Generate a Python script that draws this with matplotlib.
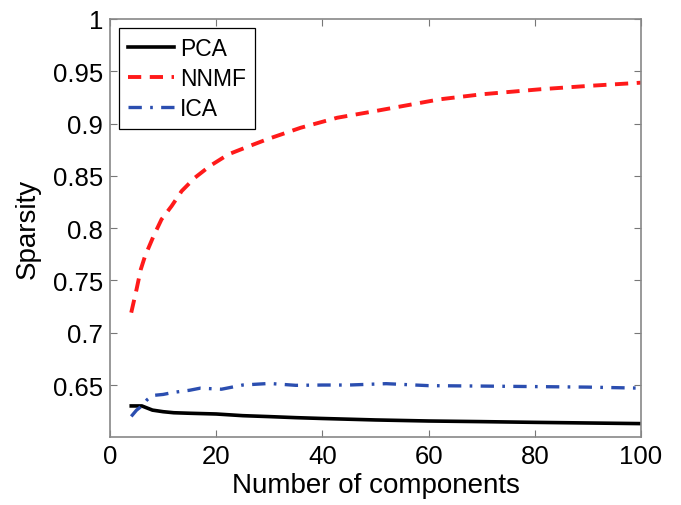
import matplotlib
matplotlib.use("Agg")
import matplotlib.pyplot as plt

plt.rcParams['font.family'] = ['Liberation Sans', 'DejaVu Sans']

# Sparsity of the learned components vs. number of components
pca_x = [4, 5, 6, 7, 8, 10, 12, 15, 20, 25, 30, 35, 40, 50, 60, 70, 80, 90, 100]
pca_y = [0.630, 0.630, 0.630, 0.628, 0.626, 0.6245, 0.6235, 0.623, 0.6223, 0.6207,
         0.6198, 0.6188, 0.618, 0.6166, 0.6156, 0.615, 0.6143, 0.6137, 0.6131]

nnmf_x = [4, 5, 5.8, 6.6, 8.2, 9.7, 11.6, 13.5, 16, 18.8, 22.3, 26, 29.6, 35.9,
          42.8, 50, 62.1, 70, 81, 90, 100]
nnmf_y = [0.7192, 0.7415, 0.7606, 0.7733, 0.7924, 0.8084, 0.8211, 0.8355, 0.8483,
          0.8594, 0.8706, 0.878, 0.885, 0.896, 0.9056, 0.912, 0.9232, 0.928, 0.9328,
          0.936, 0.9391]

ica_x = [4, 5, 6, 7, 8, 10, 12, 15, 17, 21, 25, 30, 35, 40, 45, 52, 60, 70, 80, 90, 100]
ica_y = [0.620, 0.626, 0.630, 0.636, 0.640, 0.641, 0.643, 0.645, 0.647, 0.646,
         0.650, 0.6515, 0.6497, 0.650, 0.650, 0.6513, 0.6494, 0.649, 0.6485, 0.648, 0.647]

y_ticks = [0.65, 0.7, 0.75, 0.8, 0.85, 0.9, 0.95, 1]
y_labels = ['0.65', '0.7', '0.75', '0.8', '0.85', '0.9', '0.95', '1']
x_ticks = [0, 20, 40, 60, 80, 100]

fig = plt.figure(figsize=(6.81, 5.06), dpi=100)
ax = fig.add_axes([110 / 681, 1 - 438 / 506, 531 / 681, 418 / 506])

ax.plot(pca_x, pca_y, color='black', lw=2.6, label='PCA')
ax.plot(nnmf_x, nnmf_y, color='#ff1a1a', lw=2.8, ls=(0, (3.4, 2.2)), label='NNMF')
ax.plot(ica_x, ica_y, color='#2b4eb0', lw=2.4, ls=(0, (4, 2.5, 0.8, 2.5)), label='ICA')

ax.set_xlim(0, 100)
ax.set_ylim(0.6003, 1)
ax.set_xticks(x_ticks)
ax.set_yticks(y_ticks)
ax.set_yticklabels(y_labels)
ax.tick_params(direction='in', top=True, right=True, length=5, width=0.8,
               color='#777777', labelsize=18.5, pad=5)
for s in ax.spines.values():
    s.set_color('#888888')
    s.set_linewidth(1.2)

ax.set_xlabel('Number of components', fontsize=20, labelpad=3)
ax.set_ylabel('Sparsity', fontsize=20, labelpad=9)

leg = ax.legend(loc='upper left', fontsize=16.5, fancybox=False, framealpha=1,
                edgecolor='black', handlelength=2.0, handletextpad=0.25,
                borderpad=0.4, labelspacing=0.3, borderaxespad=0.4)
leg.get_frame().set_linewidth(0.9)

fig.savefig('out.png', dpi=100)
